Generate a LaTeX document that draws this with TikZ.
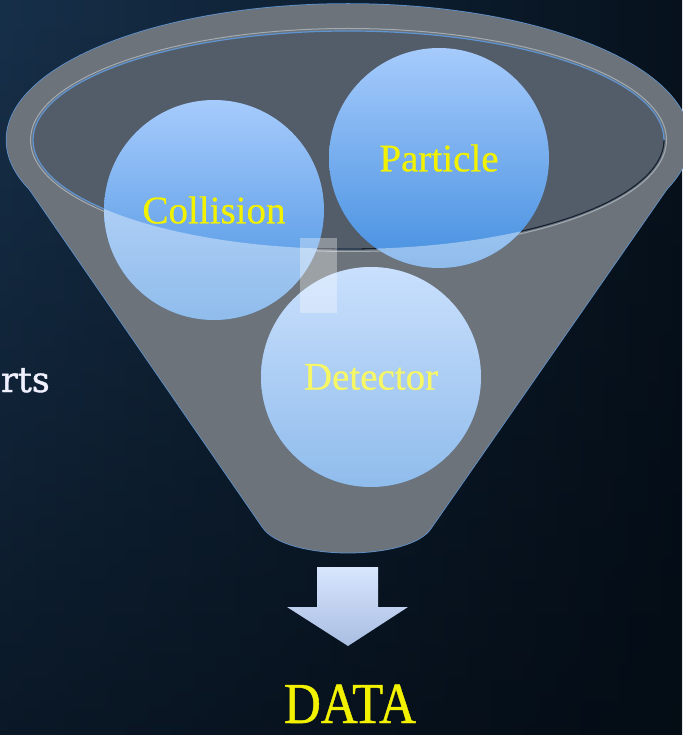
\documentclass[tikz,border=0pt]{standalone}
\usepackage{fontspec}
\setmainfont{Liberation Serif}
\newfontfamily\slabfont[FakeBold=1.2]{DejaVu Serif}
\newfontfamily\labelfont[FakeBold=0.6]{Liberation Serif}
\newfontfamily\datafont[FakeStretch=0.88,FakeBold=0.8]{Liberation Serif}
\usetikzlibrary{fadings}

\definecolor{bgA}{HTML}{17304A}
\definecolor{bgB}{HTML}{07121D}
\definecolor{bgC}{HTML}{02080F}
\definecolor{funnelgray}{HTML}{6C737A}
\definecolor{mouth}{HTML}{535D69}
\definecolor{rimblue}{HTML}{5E94D2}
\definecolor{rimlight}{HTML}{A3ABB3}
\definecolor{rimdark}{HTML}{1B2028}
\definecolor{ballTop}{HTML}{A6CBFC}
\definecolor{ballBot}{HTML}{4690E0}
\definecolor{labelyellow}{HTML}{F2F200}
\definecolor{arrowTop}{HTML}{D8E5FD}
\definecolor{arrowBot}{HTML}{A9BEE2}

\begin{document}
\begin{tikzpicture}[x=1pt,y=-1pt,
  ball/.style={circle, minimum size=220pt, inner sep=0pt,
    top color=ballTop, bottom color=ballBot,
    font=\labelfont\fontsize{39}{39}\selectfont, text=labelyellow},
  funnelline/.style={draw=rimblue, line width=1.5pt}]

% backdrop: lighter towards the upper left, darker towards the lower right
\shade[left color=bgA, right color=bgB] (0,0) rectangle (682,735);
\fill[bgC, opacity=.6, path fading=north] (0,0) rectangle (682,735);
\useasboundingbox (0,0) rectangle (682,735);

\node[anchor=base east, inner sep=0pt, font=\slabfont\fontsize{35}{35}\selectfont,
  text=white!94!blue] (rts) at (50,392) {rts};

% funnel body: rim ellipse joined with the tapering spout
\def\spout{(16.3,170) -- (262.6,527) .. controls (285,561) and (410,561) .. (431,528) -- (679.9,170) -- cycle}
\def\rim{(348,140) ellipse [x radius=341.5, y radius=136]}
\filldraw[fill=funnelgray, funnelline] \spout;
\filldraw[fill=funnelgray, funnelline] \rim;
\fill[funnelgray] \spout;
\fill[funnelgray] \rim;

% funnel mouth
\coordinate (mc) at (348.5,140);
\draw[rimlight, line width=1pt] (mc) ellipse [x radius=318, y radius=111.5];
\filldraw[fill=mouth, draw=rimblue, line width=1.2pt]
  (mc) ellipse [x radius=315.5, y radius=109];
\draw[rimdark, line width=1.3pt] (664,140)
  arc[start angle=0, end angle=100, x radius=315.5, y radius=109];

% the three balls
\node[ball] (collision) at (214,210) {Collision};
\node[ball] (particle)  at (439,158) {Particle};
\node[ball] (detector)  at (371,377) {Detector};

% translucent front wall of the funnel over the balls
\begin{scope}
  \clip (collision.center) circle (110pt) (particle.center) circle (110pt)
        (detector.center) circle (110pt);
  \fill[white, opacity=.4, even odd rule] (0,0) rectangle (682,735)
    (mc) ellipse [x radius=315.5, y radius=109];
\end{scope}

% small translucent patch
\fill[white, opacity=.33] (300,238) rectangle (337,313);

% output arrow
\shade[top color=arrowTop, bottom color=arrowBot]
  (317,567) -- (378,567) -- (378,607) -- (408,607) -- (348,646)
  -- (287,607) -- (317,607) -- cycle;

\node[anchor=base, inner sep=0pt, font=\datafont\fontsize{58}{58}\selectfont,
  text=labelyellow] (data) at (350,723) {DATA};
\end{tikzpicture}
\end{document}
